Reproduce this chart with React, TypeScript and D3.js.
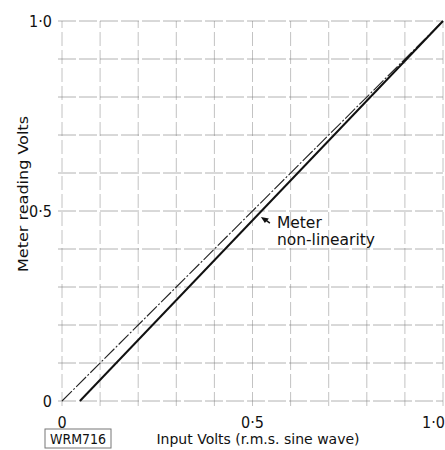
import * as React from 'react'
import * as d3 from 'd3'

const gridTicks = [0, 0.1, 0.2, 0.3, 0.4, 0.5, 0.6, 0.7, 0.8, 0.9, 1.0]
const labelTicks = [0, 0.5, 1.0]
const tickLabels = ['0', '0·5', '1·0']

// ideal response (dash) and measured meter reading (solid)
const idealLine: [number, number][] = [[0, 0], [1, 1]]
const meterLine: [number, number][] = [[0.047, 0], [1, 1]]

const annotation = { x: 0.522, y: 0.484, lines: ['Meter', 'non-linearity'] }

const W = 445
const H = 450
const COND = '"DejaVu Sans Condensed", "DejaVu Sans", sans-serif'
const WIDE = '"DejaVu Sans", sans-serif'

export default function App() {
  const ref = React.useRef<SVGSVGElement>(null)

  React.useEffect(() => {
    const svg = d3.select(ref.current)
    svg.selectAll('*').remove()

    const x = d3.scaleLinear().domain([0, 1]).range([62, 443])
    const y = d3.scaleLinear().domain([0, 1]).range([401, 21])

    const grid = svg.append('g')
    grid
      .selectAll('line.gx')
      .data(gridTicks)
      .enter()
      .append('line')
      .attr('class', 'gx')
      .attr('x1', (d) => x(d))
      .attr('x2', (d) => x(d))
      .attr('y1', y(0) + 5)
      .attr('y2', y(1))
      .attr('stroke', '#888')
      .attr('stroke-width', 1)
      .attr('stroke-dasharray', '14,4')
      .attr('opacity', 0.5)

    grid
      .selectAll('line.gy')
      .data(gridTicks)
      .enter()
      .append('line')
      .attr('class', 'gy')
      .attr('x1', x(0) - 4)
      .attr('x2', x(1))
      .attr('y1', (d) => y(d))
      .attr('y2', (d) => y(d))
      .attr('stroke', '#777')
      .attr('stroke-width', 1)
      .attr('stroke-dasharray', '18,3')
      .attr('opacity', 0.55)

    const line = d3
      .line<[number, number]>()
      .x((d) => x(d[0]))
      .y((d) => y(d[1]))

    svg
      .append('path')
      .attr('d', line(idealLine))
      .attr('fill', 'none')
      .attr('stroke', '#222')
      .attr('stroke-width', 1.1)
      .attr('stroke-dasharray', '14,2,2,2')

    svg
      .append('path')
      .attr('d', line(meterLine))
      .attr('fill', 'none')
      .attr('stroke', '#111')
      .attr('stroke-width', 2)

    // tick labels
    svg
      .selectAll('text.xt')
      .data(labelTicks)
      .enter()
      .append('text')
      .attr('class', 'xt')
      .attr('x', (d) => (d === 1 ? W : x(d)))
      .attr('y', y(0) + 27)
      .attr('text-anchor', (d) => (d === 1 ? 'end' : 'middle'))
      .attr('font-family', COND)
      .attr('font-size', 16)
      .attr('fill', '#111')
      .text((d, i) => tickLabels[i])

    svg
      .selectAll('text.yt')
      .data(labelTicks)
      .enter()
      .append('text')
      .attr('class', 'yt')
      .attr('x', x(0) - 10)
      .attr('y', (d) => y(d) + 6)
      .attr('text-anchor', 'end')
      .attr('font-family', COND)
      .attr('font-size', 16)
      .attr('fill', '#111')
      .text((d, i) => tickLabels[i])

    // axis titles
    svg
      .append('text')
      .attr('x', 258)
      .attr('y', 444)
      .attr('text-anchor', 'middle')
      .attr('font-family', WIDE)
      .attr('font-size', 14)
      .attr('fill', '#111')
      .text('Input Volts (r.m.s. sine wave)')

    svg
      .append('text')
      .attr('transform', 'translate(28,194) rotate(-90)')
      .attr('text-anchor', 'middle')
      .attr('font-family', COND)
      .attr('font-size', 14)
      .attr('textLength', 156)
      .attr('lengthAdjust', 'spacingAndGlyphs')
      .attr('fill', '#111')
      .text('Meter reading Volts')

    // figure code
    svg
      .append('rect')
      .attr('x', 45)
      .attr('y', 429)
      .attr('width', 66)
      .attr('height', 19)
      .attr('fill', 'none')
      .attr('stroke', '#777')
      .attr('stroke-width', 1)
    svg
      .append('text')
      .attr('x', 78)
      .attr('y', 444)
      .attr('text-anchor', 'middle')
      .attr('font-family', COND)
      .attr('font-size', 14)
      .attr('fill', '#111')
      .text('WRM716')

    // annotation arrow + label
    const ax = x(annotation.x)
    const ay = y(annotation.y)
    svg
      .append('path')
      .attr('d', `M${ax},${ay} L${ax + 8},${ay + 1.5} L${ax + 4},${ay + 6} Z`)
      .attr('fill', '#111')
    svg
      .append('line')
      .attr('x1', ax + 5)
      .attr('y1', ay + 3)
      .attr('x2', ax + 9)
      .attr('y2', ay + 6)
      .attr('stroke', '#111')
      .attr('stroke-width', 1.5)

    svg
      .selectAll('text.ann')
      .data(annotation.lines)
      .enter()
      .append('text')
      .attr('class', 'ann')
      .attr('x', ax + 16)
      .attr('y', (d, i) => ay + 11 + i * 17)
      .attr('font-family', WIDE)
      .attr('font-size', 15.5)
      .attr('fill', '#111')
      .text((d) => d)
  }, [])

  return (
    <svg
      ref={ref}
      width={W}
      height={H}
      style={{ position: 'absolute', left: 0, top: 0, background: '#fff' }}
    />
  )
}
